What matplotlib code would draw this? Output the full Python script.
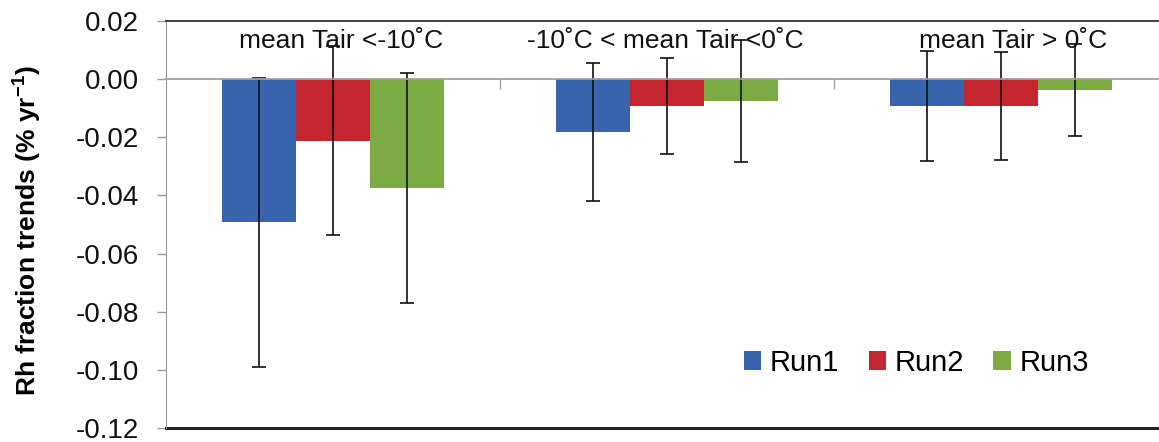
import matplotlib
matplotlib.use("Agg")
import matplotlib.pyplot as plt
import numpy as np

# data
categories = ["mean Tair <-10\u02daC", "-10\u02daC < mean Tair <0\u02daC", "mean Tair > 0\u02daC"]
runs = ["Run1", "Run2", "Run3"]
run1 = [-0.0493, -0.0182, -0.0092]
run2 = [-0.0212, -0.0093, -0.0091]
run3 = [-0.0374, -0.0076, -0.0038]
run1_err = [0.0497, 0.0238, 0.0188]
run2_err = [0.0325, 0.0165, 0.0186]
run3_err = [0.0396, 0.0210, 0.0158]
yticks = [0.02, 0.00, -0.02, -0.04, -0.06, -0.08, -0.10, -0.12]

COLORS = ["#3864ad", "#c3262f", "#7dab43"]
LABEL_SHIFT = [0.025, -0.005, 0.036]   # nudge of the category captions

plt.rcParams["font.family"] = ["Liberation Sans", "DejaVu Sans"]
plt.rcParams["mathtext.fontset"] = "custom"
plt.rcParams["mathtext.rm"] = "Liberation Sans"
plt.rcParams["mathtext.bf"] = "Liberation Sans:bold"

fig = plt.figure(figsize=(11.59, 4.42), dpi=100)
ax = fig.add_axes([166 / 1159, 1 - 428 / 442, 1002 / 1159, 407 / 442])

x = np.arange(len(categories))
width = 0.222
series = [(run1, run1_err), (run2, run2_err), (run3, run3_err)]
for i, (vals, errs) in enumerate(series):
    ax.bar(x + (i - 1) * width, vals, width, color=COLORS[i], label=runs[i],
           yerr=errs, error_kw=dict(ecolor="#111111", elinewidth=1.2,
                                    capsize=5, capthick=1.2))

ax.set_xlim(-0.5, 2.5)
ax.set_ylim(-0.12, 0.02)
ax.set_yticks(yticks)
ax.set_yticklabels([f"{v:.2f}" for v in yticks], fontsize=20)
ax.tick_params(axis="y", direction="out", length=6.5, width=1, color="#999999",
               pad=13, labelcolor="#111111")

# x axis sits on zero, category separators as ticks
ax.spines["bottom"].set_position(("data", 0))
ax.spines["bottom"].set_color("#a0a0a0")
ax.spines["bottom"].set_linewidth(1.3)
ax.set_xticks([0.5, 1.5])
ax.set_xticklabels([])
ax.tick_params(axis="x", direction="out", length=7, width=1, color="#a0a0a0")
ax.spines["left"].set_color("#999999")
ax.spines["top"].set_color("#222222")
ax.spines["top"].set_linewidth(1.2)
ax.spines["right"].set_visible(False)
ax.axhline(-0.12, color="#222222", lw=2.2, clip_on=False)

for xi, lab, sh in zip(x, categories, LABEL_SHIFT):
    ax.text(xi + sh, 0.0106, lab, ha="center", va="baseline", fontsize=19,
            color="#111111")

ax.set_ylabel(r"Rh fraction trends (% yr$^{\mathbf{-1}}$)", fontsize=19,
              fontweight="bold")
ax.yaxis.set_label_coords(-0.123, 0.484)

ax.legend(loc="center", bbox_to_anchor=(0.749, 0.16), ncol=3, frameon=False,
          fontsize=21, handlelength=0.6, handleheight=0.6, handletextpad=0.3,
          columnspacing=1.0)

fig.savefig("out.png", dpi=100)
